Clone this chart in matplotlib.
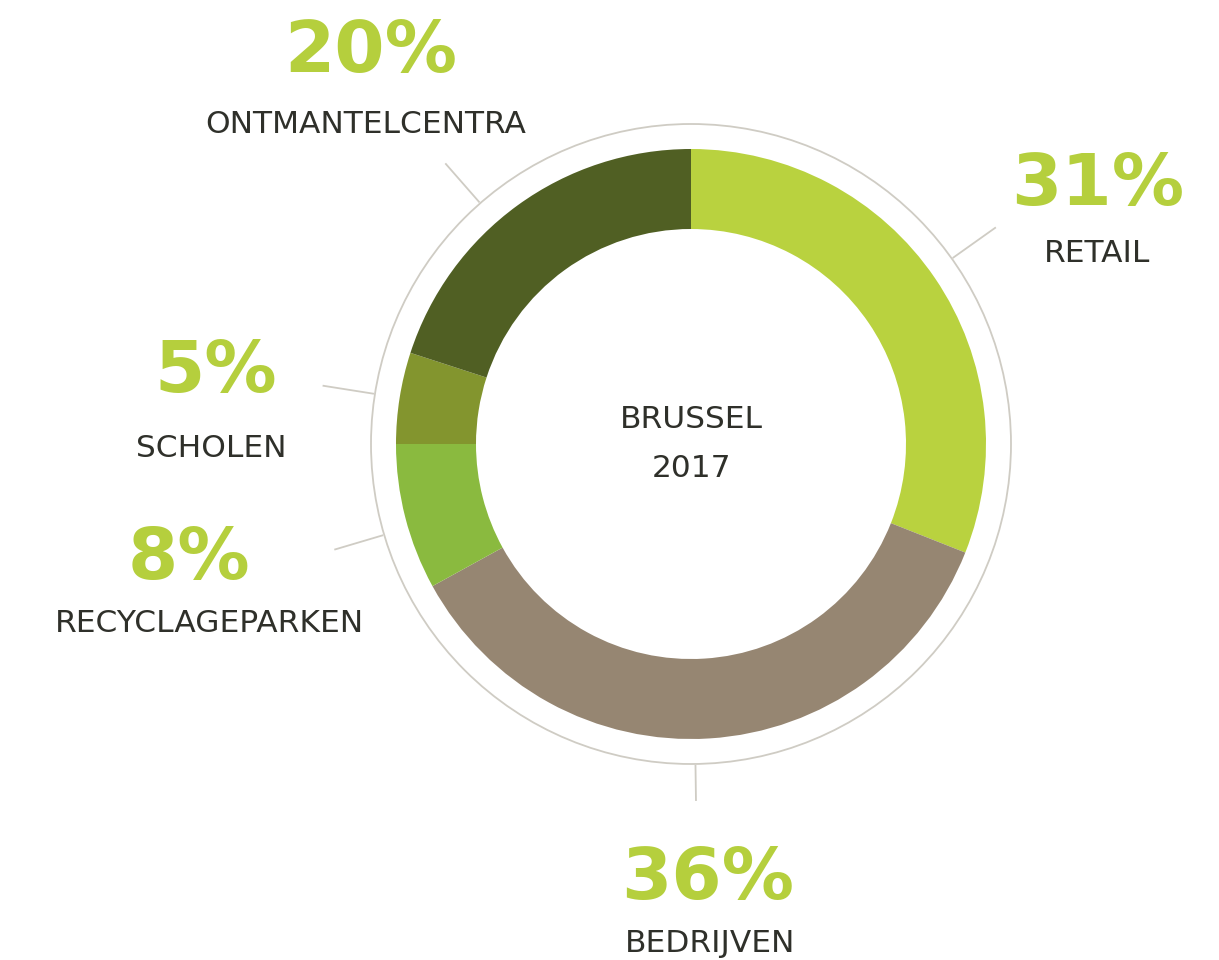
import matplotlib
matplotlib.use("Agg")
import matplotlib.pyplot as plt
import numpy as np
from matplotlib.patches import Circle

# data
categories = ["RETAIL", "BEDRIJVEN", "RECYCLAGEPARKEN", "SCHOLEN", "ONTMANTELCENTRA"]
shares = [31, 36, 8, 5, 20]
pct_labels = ["31%", "36%", "8%", "5%", "20%"]
center_title = ["BRUSSEL", "2017"]

# style
colors = ["#b9d23f", "#968672", "#8aba3f", "#83952e", "#505f23"]
PCT_COLOR = "#b5cf3d"
TXT_COLOR = "#2f302a"
RING_COLOR = "#cfccc4"

W, H = 1219, 960
cx, cy = 691, H - 444
R_OUT, R_IN, R_RING = 295, 215, 320

# label layout in image px: (pct x, pct baseline, name x, name baseline)
label_pos = [(1098, 205, 1097, 262),
             (708, 899, 710, 952),
             (189, 579, 209, 632),
             (216, 392, 211, 457),
             (371, 72, 366, 133)]
# leader ticks: angle (deg) and length outside the ring
tick_ang = [35.4, 270.8, 196.5, 171.0, 131.2]
tick_len = [54, 37, 52, 53, 53]

fig = plt.figure(figsize=(W / 100, H / 100), dpi=100)
ax = fig.add_axes([0, 0, 1, 1])
wedges, _ = ax.pie(shares, colors=colors, startangle=90, counterclock=False,
                   radius=R_OUT, center=(cx, cy), frame=True,
                   wedgeprops=dict(width=R_OUT - R_IN, linewidth=0))
ax.set_xlim(0, W)
ax.set_ylim(0, H)
ax.set_aspect("equal")
ax.axis("off")

# thin outer ring
ax.add_patch(Circle((cx, cy), R_RING, fill=False, edgecolor=RING_COLOR, lw=1.3))

for pct, name, (px, py, nx, ny), ta, tl in zip(pct_labels, categories,
                                               label_pos, tick_ang, tick_len):
    a = np.deg2rad(ta)
    r0, r1 = R_RING + 1, R_RING + tl
    ax.plot([cx + r0 * np.cos(a), cx + r1 * np.cos(a)],
            [cy + r0 * np.sin(a), cy + r1 * np.sin(a)],
            color=RING_COLOR, lw=1.3, solid_capstyle="butt")
    ax.text(px, H - py, pct, ha="center", va="baseline", fontsize=52,
            color=PCT_COLOR, family="DejaVu Sans", weight="bold")
    ax.text(nx, H - ny, name, ha="center", va="baseline", fontsize=22.5,
            color=TXT_COLOR, family="DejaVu Sans")

ax.text(cx, H - 428, center_title[0], ha="center", va="baseline",
        fontsize=22.5, color=TXT_COLOR, family="DejaVu Sans")
ax.text(cx, H - 477, center_title[1], ha="center", va="baseline",
        fontsize=22.5, color=TXT_COLOR, family="DejaVu Sans")

fig.savefig("out.png", dpi=100, facecolor="white")
